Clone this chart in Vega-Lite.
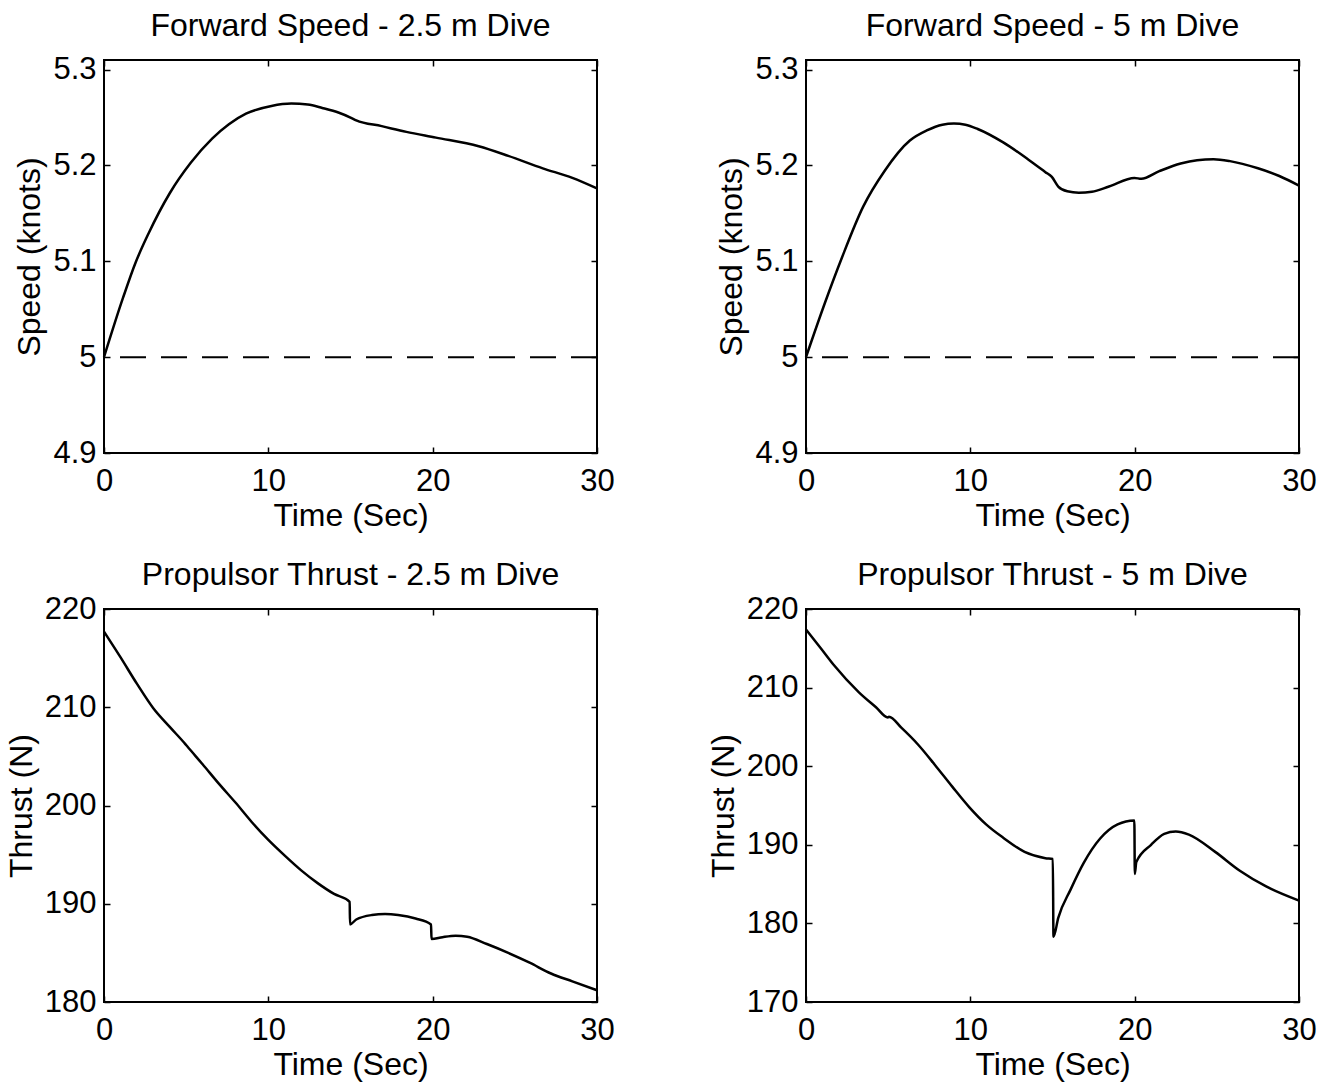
{
  "$schema": "https://vega.github.io/schema/vega-lite/v6.json",
  "background": "white",
  "padding": {"left": 4, "top": 8, "right": 5, "bottom": 5},
  "datasets": {
    "s25": [
      {"i":0,"t":0,"v":5.0},{"i":1,"t":1.16,"v":5.062},{"i":2,"t":1.93,"v":5.099},{"i":3,"t":2.71,"v":5.129},
      {"i":4,"t":4.0,"v":5.171},{"i":5,"t":5.29,"v":5.203},{"i":6,"t":6.58,"v":5.228},{"i":7,"t":7.6,"v":5.243},
      {"i":8,"t":8.64,"v":5.254},{"i":9,"t":10.19,"v":5.262},{"i":10,"t":11.4,"v":5.2645},{"i":11,"t":12.4,"v":5.2635},
      {"i":12,"t":13.28,"v":5.260},{"i":13,"t":14.3,"v":5.255},{"i":14,"t":15.0,"v":5.25},{"i":15,"t":15.35,"v":5.247},
      {"i":16,"t":16.9,"v":5.241},{"i":17,"t":18.4,"v":5.235},{"i":18,"t":20.2,"v":5.229},{"i":19,"t":22.8,"v":5.220},
      {"i":20,"t":24.6,"v":5.210},{"i":21,"t":26.7,"v":5.197},{"i":22,"t":28.5,"v":5.187},{"i":23,"t":30,"v":5.176}
    ],
    "s5": [
      {"i":0,"t":0,"v":5.0},{"i":1,"t":1.16,"v":5.057},{"i":2,"t":2.19,"v":5.104},{"i":3,"t":3.48,"v":5.157},
      {"i":4,"t":4.77,"v":5.194},{"i":5,"t":6.32,"v":5.226},{"i":6,"t":7.35,"v":5.2365},{"i":7,"t":8.3,"v":5.2425},
      {"i":8,"t":9.0,"v":5.2437},{"i":9,"t":9.7,"v":5.2425},{"i":10,"t":10.45,"v":5.238},{"i":11,"t":12.0,"v":5.224},
      {"i":12,"t":13.54,"v":5.206},{"i":13,"t":14.57,"v":5.193},{"i":14,"t":14.96,"v":5.188},{"i":15,"t":15.35,"v":5.178},
      {"i":16,"t":15.9,"v":5.173},{"i":17,"t":16.6,"v":5.1715},{"i":18,"t":17.4,"v":5.1725},{"i":19,"t":18.44,"v":5.178},
      {"i":20,"t":19.99,"v":5.187},{"i":21,"t":20.4,"v":5.186},{"i":22,"t":21.5,"v":5.194},{"i":23,"t":22.8,"v":5.202},
      {"i":24,"t":23.8,"v":5.2055},{"i":25,"t":24.8,"v":5.2065},{"i":26,"t":25.8,"v":5.2045},{"i":27,"t":27.5,"v":5.197},
      {"i":28,"t":28.8,"v":5.189},{"i":29,"t":30,"v":5.179}
    ],
    "f25": [
      {"i":0,"t":0,"v":217.7},{"i":1,"t":1,"v":215.1},{"i":2,"t":2,"v":212.4},{"i":3,"t":3,"v":209.9},
      {"i":4,"t":4,"v":208.0},{"i":5,"t":4.95,"v":206.25},{"i":6,"t":5.05,"v":206.05},{"i":7,"t":6,"v":204.2},
      {"i":8,"t":7,"v":202.2},{"i":9,"t":8,"v":200.3},{"i":10,"t":9,"v":198.3},{"i":11,"t":10,"v":196.5},
      {"i":12,"t":11,"v":194.9},{"i":13,"t":12,"v":193.4},{"i":14,"t":13,"v":192.1},{"i":15,"t":14,"v":191.0},
      {"i":16,"t":14.95,"v":190.2},{"i":17,"t":14.97,"v":187.9},{"i":18,"t":15.35,"v":188.4},{"i":19,"t":16.3,"v":188.85},
      {"i":20,"t":17.1,"v":188.95},{"i":21,"t":17.9,"v":188.85},{"i":22,"t":18.96,"v":188.5},{"i":23,"t":19.9,"v":187.9},
      {"i":24,"t":19.93,"v":186.4},{"i":25,"t":20.6,"v":186.6},{"i":26,"t":21.4,"v":186.75},{"i":27,"t":22.1,"v":186.65},
      {"i":28,"t":23.3,"v":185.9},{"i":29,"t":24.6,"v":185.0},{"i":30,"t":25.9,"v":184.0},{"i":31,"t":27.2,"v":182.9},
      {"i":32,"t":28.5,"v":182.1},{"i":33,"t":30,"v":181.2}
    ],
    "f5": [
      {"i":0,"t":0,"v":217.4},{"i":1,"t":0.9,"v":215.0},{"i":2,"t":1.68,"v":212.9},{"i":3,"t":3.22,"v":209.4},
      {"i":4,"t":4.26,"v":207.5},{"i":5,"t":4.98,"v":206.2},{"i":6,"t":5.05,"v":206.3},{"i":7,"t":5.8,"v":204.9},
      {"i":8,"t":6.84,"v":202.7},{"i":9,"t":7.87,"v":200.1},{"i":10,"t":8.9,"v":197.4},{"i":11,"t":9.93,"v":194.8},
      {"i":12,"t":10.96,"v":192.6},{"i":13,"t":12.0,"v":190.9},{"i":14,"t":13.3,"v":189.1},{"i":15,"t":14.57,"v":188.3},
      {"i":16,"t":15.02,"v":188.2},{"i":17,"t":15.06,"v":178.3},{"i":18,"t":15.35,"v":180.7},{"i":19,"t":16.1,"v":184.3},
      {"i":20,"t":16.9,"v":187.7},{"i":21,"t":17.9,"v":190.8},{"i":22,"t":18.96,"v":192.6},{"i":23,"t":19.98,"v":193.1},
      {"i":24,"t":20.01,"v":186.3},{"i":25,"t":20.1,"v":187.8},{"i":26,"t":21.0,"v":190.0},{"i":27,"t":21.8,"v":191.4},
      {"i":28,"t":22.5,"v":191.7},{"i":29,"t":23.3,"v":191.3},{"i":30,"t":24.9,"v":189.1},{"i":31,"t":26.4,"v":186.7},
      {"i":32,"t":28.0,"v":184.7},{"i":33,"t":30,"v":182.9}
    ]
  },
  "columns": 2,
  "spacing": {"row": 156, "column": 209},
  "bounds": "flush",
  "concat": [
    {
      "title": {"text": "Forward Speed - 2.5 m Dive", "offset": 11},
      "width": 493, "height": 393,
      "layer": [
        {"data": {"name": "s25"}, "mark": {"type": "line", "color": "black", "strokeWidth": 2.5, "interpolate": "monotone"},
         "encoding": {
           "x": {"field": "t", "type": "quantitative", "scale": {"domain": [0, 30], "nice": false}, "axis": {"values": [0, 10, 20, 30], "title": "Time (Sec)"}},
           "y": {"field": "v", "type": "quantitative", "scale": {"domain": [4.9, 5.31], "nice": false, "zero": false}, "axis": {"values": [4.9, 5, 5.1, 5.2, 5.3], "format": "~g", "title": "Speed (knots)"}},
           "order": {"field": "i"}}},
        {"data": {"name": "s25"}, "mark": {"type": "line", "strokeOpacity": 0},
         "encoding": {
           "x": {"field": "t", "type": "quantitative", "axis": {"orient": "top", "values": [0, 10, 20, 30], "labels": false, "title": null}},
           "y": {"field": "v", "type": "quantitative", "axis": {"orient": "right", "values": [4.9, 5, 5.1, 5.2, 5.3], "labels": false, "title": null}}}},
        {"data": {"values": [{}]}, "mark": {"type": "rule", "color": "black", "strokeWidth": 2, "strokeDash": [26, 15]},
         "encoding": {"y": {"datum": 5, "type": "quantitative", "axis": null}}}
      ],
      "resolve": {"axis": {"x": "independent", "y": "independent"}}
    },
    {
      "title": {"text": "Forward Speed - 5 m Dive", "offset": 11},
      "width": 493, "height": 393,
      "layer": [
        {"data": {"name": "s5"}, "mark": {"type": "line", "color": "black", "strokeWidth": 2.5, "interpolate": "monotone"},
         "encoding": {
           "x": {"field": "t", "type": "quantitative", "scale": {"domain": [0, 30], "nice": false}, "axis": {"values": [0, 10, 20, 30], "title": "Time (Sec)"}},
           "y": {"field": "v", "type": "quantitative", "scale": {"domain": [4.9, 5.31], "nice": false, "zero": false}, "axis": {"values": [4.9, 5, 5.1, 5.2, 5.3], "format": "~g", "title": "Speed (knots)"}},
           "order": {"field": "i"}}},
        {"data": {"name": "s5"}, "mark": {"type": "line", "strokeOpacity": 0},
         "encoding": {
           "x": {"field": "t", "type": "quantitative", "axis": {"orient": "top", "values": [0, 10, 20, 30], "labels": false, "title": null}},
           "y": {"field": "v", "type": "quantitative", "axis": {"orient": "right", "values": [4.9, 5, 5.1, 5.2, 5.3], "labels": false, "title": null}}}},
        {"data": {"values": [{}]}, "mark": {"type": "rule", "color": "black", "strokeWidth": 2, "strokeDash": [26, 15]},
         "encoding": {"y": {"datum": 5, "type": "quantitative", "axis": null}}}
      ],
      "resolve": {"axis": {"x": "independent", "y": "independent"}}
    },
    {
      "title": {"text": "Propulsor Thrust - 2.5 m Dive", "offset": 1},
      "width": 493, "height": 393,
      "layer": [
        {"data": {"name": "f25"}, "mark": {"type": "line", "color": "black", "strokeWidth": 2.5, "interpolate": "monotone"},
         "encoding": {
           "x": {"field": "t", "type": "quantitative", "scale": {"domain": [0, 30], "nice": false}, "axis": {"values": [0, 10, 20, 30], "title": "Time (Sec)"}},
           "y": {"field": "v", "type": "quantitative", "scale": {"domain": [180, 220], "nice": false, "zero": false}, "axis": {"values": [180, 190, 200, 210, 220], "title": "Thrust (N)"}},
           "order": {"field": "i"}}},
        {"data": {"name": "f25"}, "mark": {"type": "line", "strokeOpacity": 0},
         "encoding": {
           "x": {"field": "t", "type": "quantitative", "axis": {"orient": "top", "values": [0, 10, 20, 30], "labels": false, "title": null}},
           "y": {"field": "v", "type": "quantitative", "axis": {"orient": "right", "values": [180, 190, 200, 210, 220], "labels": false, "title": null}}}}
      ],
      "resolve": {"axis": {"x": "independent", "y": "independent"}}
    },
    {
      "title": {"text": "Propulsor Thrust - 5 m Dive", "offset": 1},
      "width": 493, "height": 393,
      "layer": [
        {"data": {"name": "f5"}, "mark": {"type": "line", "color": "black", "strokeWidth": 2.5, "interpolate": "monotone"},
         "encoding": {
           "x": {"field": "t", "type": "quantitative", "scale": {"domain": [0, 30], "nice": false}, "axis": {"values": [0, 10, 20, 30], "title": "Time (Sec)"}},
           "y": {"field": "v", "type": "quantitative", "scale": {"domain": [170, 220], "nice": false, "zero": false}, "axis": {"values": [170, 180, 190, 200, 210, 220], "title": "Thrust (N)"}},
           "order": {"field": "i"}}},
        {"data": {"name": "f5"}, "mark": {"type": "line", "strokeOpacity": 0},
         "encoding": {
           "x": {"field": "t", "type": "quantitative", "axis": {"orient": "top", "values": [0, 10, 20, 30], "labels": false, "title": null}},
           "y": {"field": "v", "type": "quantitative", "axis": {"orient": "right", "values": [170, 180, 190, 200, 210, 220], "labels": false, "title": null}}}}
      ],
      "resolve": {"axis": {"x": "independent", "y": "independent"}}
    }
  ],
  "config": {
    "font": "Liberation Sans",
    "view": {"stroke": "black", "strokeWidth": 2},
    "axis": {
      "domain": false, "grid": false,
      "ticks": true, "tickSize": -6, "tickWidth": 1.5, "tickColor": "black",
      "labelFont": "Liberation Sans", "labelFontSize": 31, "labelColor": "black", "labelPadding": 14,
      "titleFont": "Liberation Sans", "titleFontSize": 32, "titleFontWeight": "normal", "titleColor": "black",
      "labelFlush": false, "labelOverlap": false
    },
    "axisX": {"titlePadding": 4, "labelPadding": 19},
    "axisY": {"titlePadding": 6},
    "title": {"font": "Liberation Sans", "fontSize": 32, "fontWeight": "normal", "color": "black", "anchor": "middle"}
  }
}
